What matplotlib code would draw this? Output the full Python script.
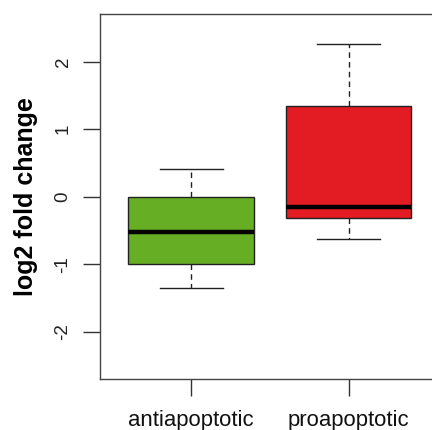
import matplotlib
matplotlib.use("Agg")
import matplotlib.pyplot as plt

# Five-number summaries of log2 fold change per gene group
groups = ["antiapoptotic", "proapoptotic"]
whisker_low = [-1.35, -0.62]
q1 = [-1.00, -0.31]
median = [-0.52, -0.15]
q3 = [0.00, 1.34]
whisker_high = [0.41, 2.26]
fill_colors = ["#66AE24", "#E31B23"]

plt.rcParams["font.family"] = ["Liberation Sans", "DejaVu Sans"]

fig = plt.figure(figsize=(4.32, 4.30), dpi=100)
ax = fig.add_axes([100 / 432, 1 - 379.3 / 430, 339.8 / 432, 365 / 430])

stats = [
    dict(label=g, whislo=lo, q1=a, med=m, q3=b, whishi=hi, fliers=[])
    for g, lo, a, m, b, hi in zip(groups, whisker_low, q1, median, q3, whisker_high)
]

bp = ax.bxp(
    stats,
    positions=[1, 2],
    widths=0.8,
    capwidths=0.4,
    patch_artist=True,
    showfliers=False,
    boxprops=dict(edgecolor="#222222", linewidth=1.0),
    medianprops=dict(color="black", linewidth=3.2, solid_capstyle="butt"),
    whiskerprops=dict(color="#222222", linewidth=1.0, linestyle=(0, (4, 3))),
    capprops=dict(color="#222222", linewidth=1.0),
)
for patch, c in zip(bp["boxes"], fill_colors):
    patch.set_facecolor(c)

ax.set_xlim(0.42, 2.58)
ax.set_ylim(-2.7, 2.7)

ax.set_yticks([-2, -1, 0, 1, 2])
ax.set_yticklabels(["-2", "-1", "0", "1", "2"], rotation=90, va="center")
ax.set_xticks([1, 2])
ax.set_xticklabels(groups)

ax.tick_params(axis="y", length=12, width=1.0, color="#333333", labelsize=13.5,
               pad=8.5, labelcolor="#222222")
ax.tick_params(axis="x", length=12, width=1.0, color="#333333", labelsize=15.9,
               pad=10, labelcolor="#111111")

for s in ax.spines.values():
    s.set_color("#444444")
    s.set_linewidth(1.0)

ax.set_ylabel("log2 fold change", fontsize=18, fontweight="bold", labelpad=12)

fig.savefig("out.png", dpi=100)
